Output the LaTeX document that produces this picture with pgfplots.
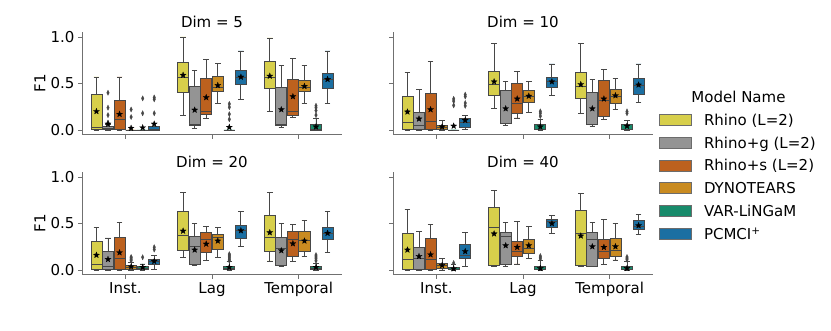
\documentclass[border=0pt]{standalone}
\usepackage{fontspec}
\setmainfont{DejaVu Sans}
\usepackage{pgfplots}
\pgfplotsset{compat=1.18}
\usepgfplotslibrary{statistics}

\definecolor{cR}{HTML}{D7CF4B}
\definecolor{cG}{HTML}{949494}
\definecolor{cS}{HTML}{BC611E}
\definecolor{cD}{HTML}{C98B21}
\definecolor{cV}{HTML}{188B6B}
\definecolor{cP}{HTML}{1B6FA2}
\definecolor{edge}{HTML}{474747}
\definecolor{spine}{HTML}{707070}

\newcommand\fs{\fontsize{15}{17}\selectfont}

% filled five-point star for the means
\pgfdeclareplotmark{fstar}{%
  \pgfpathmoveto{\pgfpointpolar{90}{\pgfplotmarksize}}%
  \pgfpathlineto{\pgfpointpolar{126}{0.42\pgfplotmarksize}}%
  \pgfpathlineto{\pgfpointpolar{162}{\pgfplotmarksize}}%
  \pgfpathlineto{\pgfpointpolar{198}{0.42\pgfplotmarksize}}%
  \pgfpathlineto{\pgfpointpolar{234}{\pgfplotmarksize}}%
  \pgfpathlineto{\pgfpointpolar{270}{0.42\pgfplotmarksize}}%
  \pgfpathlineto{\pgfpointpolar{306}{\pgfplotmarksize}}%
  \pgfpathlineto{\pgfpointpolar{342}{0.42\pgfplotmarksize}}%
  \pgfpathlineto{\pgfpointpolar{18}{\pgfplotmarksize}}%
  \pgfpathlineto{\pgfpointpolar{54}{0.42\pgfplotmarksize}}%
  \pgfpathclose\pgfusepathqfillstroke}

\pgfplotsset{
  bxs/.style={draw=edge,line width=0.8pt,mark=diamond*,mark size=2.6pt,
    mark options={fill=edge,draw=edge,line width=0.3pt,xscale=0.65},
    boxplot/draw direction=y,
    boxplot/box extend=0.128,boxplot/whisker extend=0.064},
  means/.style={only marks,mark=fstar,mark size=3.2pt,
    mark options={fill=black,draw=black,line width=0.2pt}},
  panel/.style={scale only axis,width=260pt,height=102.3pt,
    xmin=-0.5,xmax=2.5,ymin=-0.05,ymax=1.05,
    xtick={0,1,2},ytick={0,0.5,1},
    axis x line*=bottom,axis y line*=left,
    axis line style={-,draw=spine,line width=0.8pt},
    tick style={draw=spine,line width=0.8pt},
    tick align=outside,major tick length=4pt,
    font=\fs,
    /pgf/number format/assume math mode=true,
    title style={at={(axis description cs:0.5,1)},anchor=base,yshift=-1.5pt},
    ylabel style={at={(axis description cs:-0.162,0.5)},anchor=center},
    anchor=south west},
}

% draw position, colour, lower whisker, lower quartile, median, upper quartile, upper whisker
\newcommand{\bx}[7]{\addplot[bxs,fill=#2,boxplot prepared={draw position=#1,
  lower whisker=#3,lower quartile=#4,median=#5,upper quartile=#6,upper whisker=#7}] coordinates {};}
% same, with outliers
\newcommand{\bxo}[8]{\addplot[bxs,fill=#2,boxplot prepared={draw position=#1,
  lower whisker=#3,lower quartile=#4,median=#5,upper quartile=#6,upper whisker=#7}]
  table[row sep=\\,y index=0] {v\\#8};}

\begin{document}
\begin{tikzpicture}
\useasboundingbox (0,0) rectangle (831pt,-331pt);

% ---------- Dim = 5
\begin{axis}[panel,at={(82pt,-134.65pt)},title={Dim = 5},ylabel={F1},
  xticklabels={,,},yticklabels={0.0,0.5,1.0}]
\bx{-0.3333}{cR}{0}{0.005}{0.03}{0.38}{0.57}
\bxo{-0.2}{cG}{0}{0.005}{0.02}{0.035}{0.06}{0.08\\0.16\\0.24\\0.40\\}
\bx{-0.0667}{cS}{0}{0.005}{0.11}{0.32}{0.57}
\bxo{0.0667}{cD}{0}{0}{0}{0}{0}{0.14\\0.22\\}
\bxo{0.2}{cV}{0}{0}{0}{0}{0}{0.18\\0.34\\}
\bxo{0.3333}{cP}{0}{0}{0.01}{0.04}{0.04}{0.18\\0.33\\0.35\\}
\bx{0.6667}{cR}{0.16}{0.405}{0.57}{0.73}{1.0}
\bx{0.8}{cG}{0.02}{0.05}{0.065}{0.47}{0.64}
\bx{0.9333}{cS}{0.12}{0.165}{0.2}{0.555}{0.76}
\bx{1.0667}{cD}{0.29}{0.41}{0.46}{0.58}{0.72}
\bxo{1.2}{cV}{0}{0}{0}{0}{0}{0.115\\0.17\\0.245\\0.28\\}
\bx{1.3333}{cP}{0.33}{0.495}{0.57}{0.64}{0.85}
\bx{1.6667}{cR}{0.2}{0.445}{0.57}{0.74}{0.99}
\bx{1.8}{cG}{0.03}{0.05}{0.057}{0.455}{0.69}
\bx{1.9333}{cS}{0.135}{0.16}{0.2}{0.545}{0.77}
\bx{2.0667}{cD}{0.29}{0.41}{0.455}{0.53}{0.69}
\bxo{2.2}{cV}{0}{0}{0.01}{0.065}{0.12}{0.16\\0.21\\0.24\\0.26\\}
\bx{2.3333}{cP}{0.29}{0.445}{0.545}{0.61}{0.85}
\addplot[means] coordinates {(-0.3333,0.2)(-0.2,0.065)(-0.0667,0.17)(0.0667,0.02)(0.2,0.025)(0.3333,0.065)
 (0.6667,0.59)(0.8,0.215)(0.9333,0.35)(1.0667,0.48)(1.2,0.03)(1.3333,0.57)
 (1.6667,0.58)(1.8,0.22)(1.9333,0.36)(2.0667,0.47)(2.2,0.035)(2.3333,0.545)};
\end{axis}

% ---------- Dim = 10
\begin{axis}[panel,at={(393pt,-134.65pt)},title={Dim = 10},
  xticklabels={,,},yticklabels={,,}]
\bx{-0.3333}{cR}{0}{0.005}{0.085}{0.365}{0.62}
\bx{-0.2}{cG}{0}{0.005}{0.05}{0.19}{0.44}
\bx{-0.0667}{cS}{0}{0.005}{0.09}{0.39}{0.74}
\bx{0.0667}{cD}{0}{0.007}{0.03}{0.05}{0.1}
\bxo{0.2}{cV}{0}{0}{0}{0}{0}{0.265\\0.31\\0.335\\}
\bxo{0.3333}{cP}{0.007}{0.03}{0.08}{0.125}{0.16}{0.26\\0.29\\0.36\\0.38\\}
\bx{0.6667}{cR}{0.235}{0.37}{0.485}{0.63}{0.935}
\bx{0.8}{cG}{0.05}{0.07}{0.075}{0.425}{0.525}
\bx{0.9333}{cS}{0.13}{0.18}{0.29}{0.505}{0.63}
\bx{1.0667}{cD}{0.19}{0.3}{0.36}{0.43}{0.525}
\bxo{1.2}{cV}{0}{0.007}{0.01}{0.06}{0.115}{0.15\\0.18\\0.2\\}
\bx{1.3333}{cP}{0.375}{0.455}{0.525}{0.57}{0.71}
\bx{1.6667}{cR}{0.175}{0.345}{0.465}{0.615}{0.93}
\bx{1.8}{cG}{0.043}{0.057}{0.065}{0.4}{0.54}
\bx{1.9333}{cS}{0.115}{0.15}{0.32}{0.53}{0.65}
\bx{2.0667}{cD}{0.22}{0.29}{0.365}{0.44}{0.555}
\bxo{2.2}{cV}{0}{0.007}{0.01}{0.055}{0.107}{0.18\\0.2\\}
\bx{2.3333}{cP}{0.3}{0.385}{0.48}{0.55}{0.71}
\addplot[means] coordinates {(-0.3333,0.195)(-0.2,0.12)(-0.0667,0.22)(0.0667,0.035)(0.2,0.043)(0.3333,0.105)
 (0.6667,0.52)(0.8,0.23)(0.9333,0.335)(1.0667,0.365)(1.2,0.035)(1.3333,0.52)
 (1.6667,0.49)(1.8,0.23)(1.9333,0.335)(2.0667,0.37)(2.2,0.043)(2.3333,0.485)};
\end{axis}

% ---------- Dim = 20
\begin{axis}[panel,at={(82pt,-274.65pt)},title={Dim = 20},ylabel={F1},
  xticklabels={Inst.,Lag,Temporal},yticklabels={0.0,0.5,1.0}]
\bx{-0.3333}{cR}{0}{0.007}{0.06}{0.31}{0.457}
\bx{-0.2}{cG}{0}{0.007}{0.043}{0.2}{0.345}
\bx{-0.0667}{cS}{0}{0.01}{0.12}{0.35}{0.515}
\bxo{0.0667}{cD}{0}{0.01}{0.03}{0.05}{0.08}{0.1\\0.115\\0.13\\0.14\\}
\bxo{0.2}{cV}{0}{0.007}{0.02}{0.043}{0.065}{0.137\\}
\bxo{0.3333}{cP}{0.007}{0.058}{0.09}{0.115}{0.16}{0.22\\0.245\\}
\bx{0.6667}{cR}{0.133}{0.216}{0.374}{0.63}{0.83}
\bx{0.8}{cG}{0.05}{0.058}{0.25}{0.363}{0.5}
\bx{0.9333}{cS}{0.1}{0.187}{0.324}{0.406}{0.468}
\bx{1.0667}{cD}{0.133}{0.223}{0.353}{0.378}{0.457}
\bxo{1.2}{cV}{0}{0.007}{0.02}{0.043}{0.09}{0.1\\0.115\\0.13\\0.145\\0.16\\0.17\\}
\bx{1.3333}{cP}{0.252}{0.342}{0.424}{0.475}{0.633}
\bx{1.6667}{cR}{0.097}{0.198}{0.35}{0.59}{0.835}
\bx{1.8}{cG}{0.04}{0.05}{0.227}{0.353}{0.5}
\bx{1.9333}{cS}{0.09}{0.144}{0.324}{0.414}{0.489}
\bx{2.0667}{cD}{0.15}{0.198}{0.313}{0.42}{0.53}
\bxo{2.2}{cV}{0}{0.007}{0.02}{0.043}{0.07}{0.1\\0.12\\0.14\\0.16\\}
\bx{2.3333}{cP}{0.19}{0.324}{0.396}{0.46}{0.626}
\addplot[means] coordinates {(-0.3333,0.16)(-0.2,0.115)(-0.0667,0.187)(0.0667,0.036)(0.2,0.03)(0.3333,0.094)
 (0.6667,0.42)(0.8,0.216)(0.9333,0.28)(1.0667,0.313)(1.2,0.03)(1.3333,0.424)
 (1.6667,0.403)(1.8,0.209)(1.9333,0.284)(2.0667,0.313)(2.2,0.03)(2.3333,0.396)};
\end{axis}

% ---------- Dim = 40
\begin{axis}[panel,at={(393pt,-274.65pt)},title={Dim = 40},
  xticklabels={Inst.,Lag,Temporal},yticklabels={,,}]
\bx{-0.3333}{cR}{0}{0.004}{0.11}{0.39}{0.655}
\bx{-0.2}{cG}{0}{0.004}{0.13}{0.248}{0.417}
\bx{-0.0667}{cS}{0}{0.004}{0.11}{0.342}{0.49}
\bx{0.0667}{cD}{0}{0.022}{0.05}{0.076}{0.126}
\bxo{0.2}{cV}{0}{0.004}{0.01}{0.03}{0.065}{0.075\\}
\bx{0.3333}{cP}{0.04}{0.126}{0.162}{0.27}{0.403}
\bx{0.6667}{cR}{0.04}{0.054}{0.46}{0.676}{0.856}
\bx{0.8}{cG}{0.036}{0.058}{0.36}{0.406}{0.507}
\bx{0.9333}{cS}{0.065}{0.151}{0.2}{0.31}{0.52}
\bx{1.0667}{cD}{0.126}{0.183}{0.234}{0.324}{0.47}
\bxo{1.2}{cV}{0}{0.004}{0.01}{0.036}{0.1}{0.12\\0.135\\0.15\\}
\bx{1.3333}{cP}{0.396}{0.453}{0.525}{0.547}{0.586}
\bx{1.6667}{cR}{0.04}{0.047}{0.39}{0.64}{0.827}
\bx{1.8}{cG}{0.036}{0.043}{0.33}{0.403}{0.51}
\bx{1.9333}{cS}{0.058}{0.122}{0.198}{0.324}{0.543}
\bx{2.0667}{cD}{0.108}{0.147}{0.209}{0.345}{0.504}
\bxo{2.2}{cV}{0}{0.004}{0.01}{0.036}{0.094}{0.11\\0.125\\0.14\\}
\bx{2.3333}{cP}{0.38}{0.435}{0.468}{0.532}{0.593}
\addplot[means] coordinates {(-0.3333,0.216)(-0.2,0.147)(-0.0667,0.165)(0.0667,0.05)(0.2,0.014)(0.3333,0.2)
 (0.6667,0.39)(0.8,0.263)(0.9333,0.245)(1.0667,0.263)(1.2,0.018)(1.3333,0.5)
 (1.6667,0.367)(1.8,0.252)(1.9333,0.245)(2.0667,0.252)(2.2,0.018)(2.3333,0.478)};
\end{axis}

% ---------- legend
\node[font=\fs,anchor=base] at (738.5pt,-102.3pt) {Model Name};
\begin{axis}[at={(659pt,-113.5pt)},anchor=north west,scale only axis,
  width=10pt,height=10pt,hide axis,xmin=0,xmax=1,ymin=0,ymax=1,
  legend style={at={(0,1)},anchor=north west,draw=none,fill=none,font=\fs,
    inner sep=0pt,row sep=11.1pt,legend cell align=left,
    nodes={inner sep=0pt,text height=11pt,text depth=0pt},
    /tikz/every odd column/.append style={column sep=12pt}},
  legend image code/.code={\draw[#1,draw=edge!80,line width=0.8pt] (0pt,-5.5pt) rectangle (32pt,5.5pt);}]
\addlegendimage{fill=cR}
\addlegendimage{fill=cG}
\addlegendimage{fill=cS}
\addlegendimage{fill=cD}
\addlegendimage{fill=cV}
\addlegendimage{fill=cP}
\legend{{Rhino (L=2)},{Rhino+g (L=2)},{Rhino+s (L=2)},{DYNOTEARS},{VAR-LiNGaM},{PCMCI\textsuperscript{+}}}
\end{axis}
\end{tikzpicture}
\end{document}
